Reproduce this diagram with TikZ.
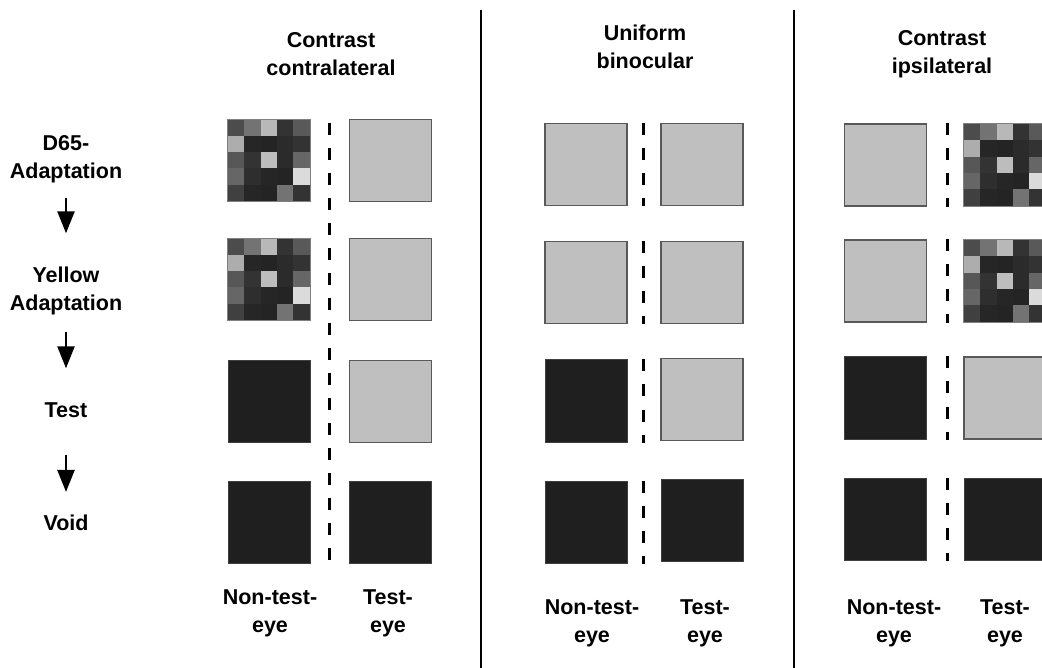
\documentclass[tikz,border=0pt]{standalone}
\usepackage{fontspec}
\setmainfont{Liberation Sans}
\usetikzlibrary{positioning,arrows.meta,calc}

% 5x5 Mosaik ueber einem leeren Knoten
\newcommand{\drawmosaic}[1]{%
  \foreach \cells [count=\j] in {{30,45,72,20,35},{68,15,14,17,20},{34,20,74,17,40},{40,18,15,14,86},{25,15,14,45,20}}
    \foreach \g [count=\i] in \cells
      \fill[white!\g!black] ([shift={({(\i-1)*16.4},{(\j-1)*16.4})}]#1.north west) rectangle +(16.4,16.4);
  \draw[mosaicedge] (#1.north west) rectangle (#1.south east);
}

\begin{document}
\begin{tikzpicture}[x=1pt,y=-1pt,
    txt/.style={font=\fontsize{21.5}{28}\selectfont\bfseries, align=center, inner sep=0pt},
    graybox/.style={draw=black!65, line width=1.4pt, fill=black!25, minimum size=82pt, inner sep=0pt},
    darkbox/.style={draw=black!75, line width=1pt, fill=black!88, minimum size=82pt, inner sep=0pt},
    mosaicbox/.style={minimum size=82pt, inner sep=0pt},
    mosaicedge/.style={draw=black!50, line width=0.8pt},
    eyesplit/.style={line width=3pt, dash pattern=on 12pt off 13pt},
    panelsep/.style={line width=2.4pt},
    flow/.style={line width=2.5pt, -{Triangle[length=22pt,width=17pt]}}]
    \useasboundingbox (0,0) rectangle (1042,668);

    % Trennlinien zwischen den Bedingungen
    \draw[panelsep] (481,10) -- (481,668);
    \draw[panelsep] (794,10) -- (794,668);

    % Ueberschriften
    \node[txt] (hcontra) at (331,54) {Contrast\\contralateral};
    \node[txt] (huni) at (645,47) {Uniform\\binocular};
    \node[txt] (hipsi) at (942,54) {Contrast\\ipsilateral};

    % Ablauf links
    \node[txt] (d65) at (66,159) {D65-\\Adaptation};
    \node[txt] (yellow) at (66,290.5) {Yellow\\Adaptation};
    \node[txt] (test) at (66,410) {Test};
    \node[txt] (void) at (66,523) {Void};
    \draw[flow, shorten <=15pt, shorten >=33pt] (d65) -- (yellow);
    \draw[flow, shorten <=17pt, shorten >=34pt] (yellow) -- (test);
    \draw[flow, shorten <=37pt, shorten >=23pt] (test) -- (void);

    % Contrast contralateral
    \node[mosaicbox] (cn1) at (269,160.5) {}; \drawmosaic{cn1}
    \node[mosaicbox] (cn2) at (269,279.5) {}; \drawmosaic{cn2}
    \node[darkbox] (cn3) at (269,401.5) {};
    \node[darkbox] (cn4) at (269,522.5) {};
    \node[graybox] (ct1) at (390.5,160.5) {};
    \node[graybox] (ct2) at (390.5,279.5) {};
    \node[graybox] (ct3) at (390.5,401.5) {};
    \node[darkbox] (ct4) at (390.5,522.5) {};
    \draw[eyesplit] (329,123) -- (329,563);

    % Uniform binocular
    \node[graybox] (un1) at (586,164.5) {};
    \node[graybox] (un2) at (586,282.5) {};
    \node[darkbox] (un3) at (586,401) {};
    \node[darkbox] (un4) at (586,522) {};
    \node[graybox] (ut1) at (702,164.5) {};
    \node[graybox] (ut2) at (702,282.5) {};
    \node[graybox] (ut3) at (702,399.5) {};
    \node[darkbox] (ut4) at (702,520.5) {};
    \foreach \r in {1,...,4}
        \draw[eyesplit] (643,0 |- un\r.north) -- (643,0 |- un\r.south);

    % Contrast ipsilateral
    \node[graybox] (in1) at (885.5,165) {};
    \node[graybox] (in2) at (885.5,281) {};
    \node[darkbox] (in3) at (885.5,398) {};
    \node[darkbox] (in4) at (885.5,519.5) {};
    \node[mosaicbox] (it1) at (1005,165) {}; \drawmosaic{it1}
    \node[mosaicbox] (it2) at (1005,281) {}; \drawmosaic{it2}
    \node[graybox] (it3) at (1005,398) {};
    \node[darkbox] (it4) at (1005,519.5) {};
    \foreach \r in {1,...,4}
        \draw[eyesplit] (947,0 |- in\r.north) -- (947,0 |- in\r.south);

    % Augen
    \node[txt] (cnt) at (270,613.5) {Non-test-\\eye};
    \node[txt] (ctt) at (388,613.5) {Test-\\eye};
    \node[txt] (unt) at (592,623.5) {Non-test-\\eye};
    \node[txt] (utt) at (705,623.5) {Test-\\eye};
    \node[txt] (int) at (894,623.5) {Non-test-\\eye};
    \node[txt] (itt) at (1005,623.5) {Test-\\eye};
\end{tikzpicture}
\end{document}
